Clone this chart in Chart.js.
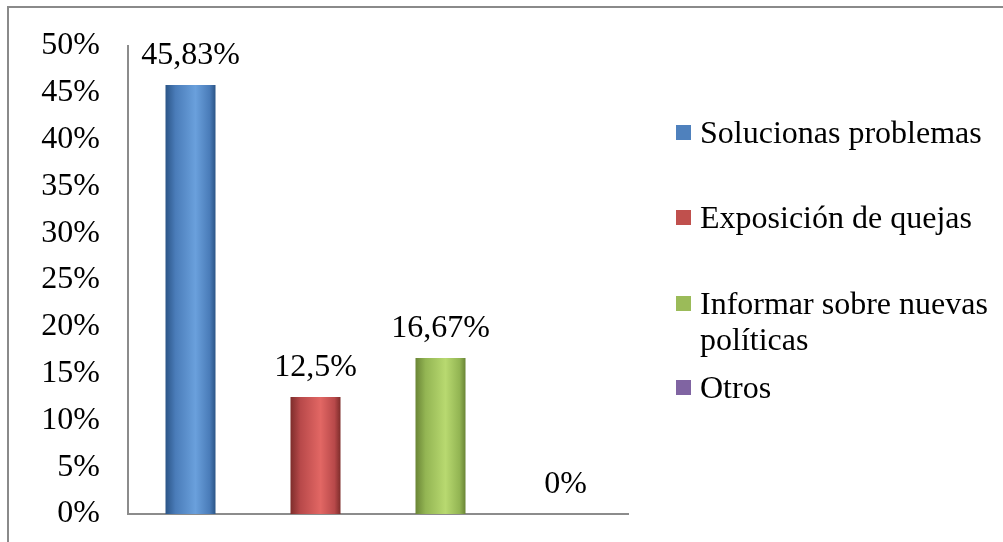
<!DOCTYPE html>
<html>
<head>
<meta charset="utf-8">
<script src="https://cdn.jsdelivr.net/npm/chart.js@4/dist/chart.umd.min.js"></script>
<style>
  html, body { margin: 0; padding: 0; background: #fff; }
  #wrap { position: relative; width: 1003px; height: 542px; overflow: hidden; }
  #frame {
    position: absolute; left: 7px; top: 6px; right: -4px; bottom: -4px;
    border-top: 2px solid #8a8a8a; border-left: 2px solid #8a8a8a;
  }
  canvas { position: absolute; left: 0; top: 0; }
  .legend-item {
    position: absolute; left: 676px;
    font-family: "Liberation Serif", "Times New Roman", serif;
    font-size: 32px; line-height: 36px; color: #000;
    padding-left: 24px; white-space: nowrap;
  }
  .legend-item i {
    position: absolute; left: 0; top: 11px; width: 15px; height: 15px;
  }
</style>
</head>
<body>
<div id="wrap">
  <div id="frame"></div>
  <canvas id="chart" width="1003" height="542"></canvas>
</div>
<script>
// Data
const categories = ['Solucionas problemas', 'Exposición de quejas', 'Informar sobre nuevas\npolíticas', 'Otros'];
const values = [45.83, 12.5, 16.67, 0];
const valueLabels = ['45,83%', '12,5%', '16,67%', '0%'];
const yTicks = [0, 5, 10, 15, 20, 25, 30, 35, 40, 45, 50];

// flat colour for the legend, plus the three stops of the cylinder shading
const baseColors = ['#4F81BD', '#C0504D', '#9BBB59', '#8064A2'];
const shades = [
  ['#2b5587', '#4a7cb9', '#6aa0dc'],
  ['#7e2d2b', '#b8494a', '#e26764'],
  ['#6a8536', '#93b553', '#b8d970'],
  ['#553d75', '#7a5e9d', '#9d82bf'],
];
const legendTops = [114, 199, 285, 369];

const serif = "'Liberation Serif', 'Times New Roman', serif";
const BAR_HALF = 25;

function cylinder(ctx) {
  const chart = ctx.chart;
  const i = ctx.dataIndex;
  const xScale = chart.scales.x;
  if (!chart.chartArea || !xScale) return baseColors[i];
  const cx = xScale.getPixelForValue(i);
  const [dark, mid, light] = shades[i];
  const g = chart.ctx.createLinearGradient(cx - BAR_HALF, 0, cx + BAR_HALF, 0);
  g.addColorStop(0, dark);
  g.addColorStop(0.2, mid);
  g.addColorStop(0.6, light);
  g.addColorStop(0.88, mid);
  g.addColorStop(1, dark);
  return g;
}

// percentages printed above each bar
const valueLabelPlugin = {
  id: 'valueLabels',
  afterDatasetsDraw(chart) {
    const c = chart.ctx;
    const meta = chart.getDatasetMeta(0);
    c.save();
    c.font = '32px ' + serif;
    c.fillStyle = '#000';
    c.textAlign = 'center';
    c.textBaseline = 'alphabetic';
    meta.data.forEach((bar, i) => {
      c.fillText(valueLabels[i], bar.x, bar.y - 21);
    });
    c.restore();
  },
};

new Chart(document.getElementById('chart'), {
  type: 'bar',
  data: {
    labels: categories,
    datasets: [{
      data: values,
      backgroundColor: cylinder,
      borderWidth: 0,
      categoryPercentage: 1,
      barPercentage: 0.4,
    }],
  },
  options: {
    responsive: false,
    animation: false,
    devicePixelRatio: 1,
    layout: { padding: { left: 0, right: 375, top: 46, bottom: 28 } },
    plugins: { legend: { display: false }, tooltip: { enabled: false } },
    scales: {
      x: {
        grid: { display: false },
        border: { display: true, color: '#8c8c8c', width: 2 },
        ticks: { display: false },
        afterFit(scale) { scale.height = 0; },
      },
      y: {
        min: 0,
        max: 50,
        afterBuildTicks(scale) { scale.ticks = yTicks.map((v) => ({ value: v })); },
        afterFit(scale) {
          scale.width = 128;
          // the outer labels may overhang the plot; the layout padding covers them
          scale.paddingTop = 0;
          scale.paddingBottom = 0;
        },
        grid: { display: false },
        border: { display: true, color: '#8c8c8c', width: 2 },
        ticks: {
          padding: 20,
          color: '#000',
          font: { family: serif, size: 32 },
          callback: (v) => v + '%',
        },
      },
    },
  },
  plugins: [valueLabelPlugin],
});

// legend beside the plot, one entry per category
const wrap = document.getElementById('wrap');
categories.forEach((name, i) => {
  const item = document.createElement('div');
  item.className = 'legend-item';
  item.style.top = legendTops[i] + 'px';
  const sw = document.createElement('i');
  sw.style.background = baseColors[i];
  item.appendChild(sw);
  name.split('\n').forEach((line, k) => {
    if (k > 0) item.appendChild(document.createElement('br'));
    item.appendChild(document.createTextNode(line));
  });
  wrap.appendChild(item);
});
</script>
</body>
</html>
